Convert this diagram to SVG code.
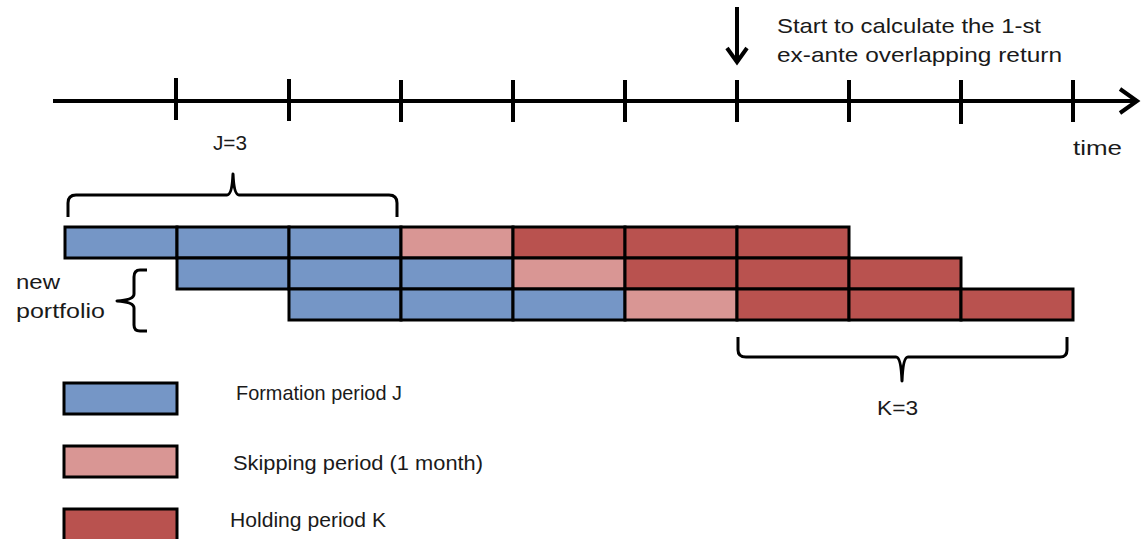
<svg xmlns="http://www.w3.org/2000/svg" width="1144" height="539" viewBox="0 0 1144 539">
<style>
.t{font-family:"Liberation Sans",Arial,sans-serif;font-size:21px;fill:#1a1a1a}
.ax{stroke:#000;stroke-width:4;fill:none}
.br{stroke:#000;stroke-width:3;fill:none;stroke-linejoin:round}
.cell{stroke:#000;stroke-width:3}
.f{fill:#7596c6}
.s{fill:#d99694}
.h{fill:#b9524f}
</style>
<rect width="1144" height="539" fill="#fff"/>
<g id="connectors">
<line class="ax" x1="53" y1="101" x2="1136" y2="101"/>
<polyline class="ax" points="1120,89 1137,101 1120,113"/>
<g class="ax">
<line x1="176" y1="78" x2="176" y2="120"/>
<line x1="289" y1="79" x2="289" y2="121"/>
<line x1="401" y1="80" x2="401" y2="122"/>
<line x1="513" y1="80" x2="513" y2="122"/>
<line x1="625" y1="80" x2="625" y2="122"/>
<line x1="737" y1="80" x2="737" y2="122"/>
<line x1="849" y1="80" x2="849" y2="122"/>
<line x1="961" y1="80" x2="961" y2="124"/>
<line x1="1073" y1="80" x2="1073" y2="122"/>
</g>
<line class="ax" x1="737" y1="7" x2="737" y2="62"/>
<polyline class="ax" points="727,48 737,62 747,48"/>
</g>
<g id="timeline-labels">
<text class="t" x="777" y="33" textLength="264" lengthAdjust="spacingAndGlyphs">Start to calculate the 1-st</text>
<text class="t" x="777" y="62" textLength="285" lengthAdjust="spacingAndGlyphs">ex-ante overlapping return</text>
<text class="t" x="1073" y="155" textLength="49" lengthAdjust="spacingAndGlyphs">time</text>
</g>
<g id="brace-J">
<path class="br" d="M68,217 L68,203 Q68,195 76,195 L227,195 Q232,195 233,174 Q234,195 239,195 L389,195 Q397,195 397,203 L397,217"/>
<text class="t" x="213" y="150" textLength="34" lengthAdjust="spacingAndGlyphs">J=3</text>
</g>
<g id="row1">
<rect class="cell f" x="65" y="227" width="112" height="31"/>
<rect class="cell f" x="177" y="227" width="112" height="31"/>
<rect class="cell f" x="289" y="227" width="112" height="31"/>
<rect class="cell s" x="401" y="227" width="112" height="31"/>
<rect class="cell h" x="513" y="227" width="112" height="31"/>
<rect class="cell h" x="625" y="227" width="112" height="31"/>
<rect class="cell h" x="737" y="227" width="112" height="31"/>
</g>
<g id="row2">
<rect class="cell f" x="177" y="258" width="112" height="31"/>
<rect class="cell f" x="289" y="258" width="112" height="31"/>
<rect class="cell f" x="401" y="258" width="112" height="31"/>
<rect class="cell s" x="513" y="258" width="112" height="31"/>
<rect class="cell h" x="625" y="258" width="112" height="31"/>
<rect class="cell h" x="737" y="258" width="112" height="31"/>
<rect class="cell h" x="849" y="258" width="112" height="31"/>
</g>
<g id="row3">
<rect class="cell f" x="289" y="289" width="112" height="31"/>
<rect class="cell f" x="401" y="289" width="112" height="31"/>
<rect class="cell f" x="513" y="289" width="112" height="31"/>
<rect class="cell s" x="625" y="289" width="112" height="31"/>
<rect class="cell h" x="737" y="289" width="112" height="31"/>
<rect class="cell h" x="849" y="289" width="112" height="31"/>
<rect class="cell h" x="961" y="289" width="112" height="31"/>
</g>
<g id="new-portfolio">
<path class="br" d="M147,270 L140,270 Q134,270 134,277 L134,294 Q134,300 117,301 Q134,302 134,308 L134,325 Q134,331 140,331 L147,331"/>
<text class="t" x="16" y="289" textLength="44" lengthAdjust="spacingAndGlyphs">new</text>
<text class="t" x="16" y="318" textLength="89" lengthAdjust="spacingAndGlyphs">portfolio</text>
</g>
<g id="brace-K">
<path class="br" d="M738,337 L738,350 Q738,357 746,357 L896,357 Q901,357 902,381 Q903,357 908,357 L1060,357 Q1067,357 1067,350 L1067,337"/>
<text class="t" x="877" y="415" textLength="41" lengthAdjust="spacingAndGlyphs">K=3</text>
</g>
<g id="legend-formation">
<rect class="cell f" x="64" y="383" width="113" height="31"/>
<text class="t" x="236" y="400" textLength="166" lengthAdjust="spacingAndGlyphs">Formation period J</text>
</g>
<g id="legend-skipping">
<rect class="cell s" x="64" y="446" width="113" height="31"/>
<text class="t" x="233" y="470" textLength="250" lengthAdjust="spacingAndGlyphs">Skipping period (1 month)</text>
</g>
<g id="legend-holding">
<rect class="cell h" x="64" y="509" width="113" height="32"/>
<text class="t" x="230" y="527" textLength="156" lengthAdjust="spacingAndGlyphs">Holding period K</text>
</g>
</svg>
